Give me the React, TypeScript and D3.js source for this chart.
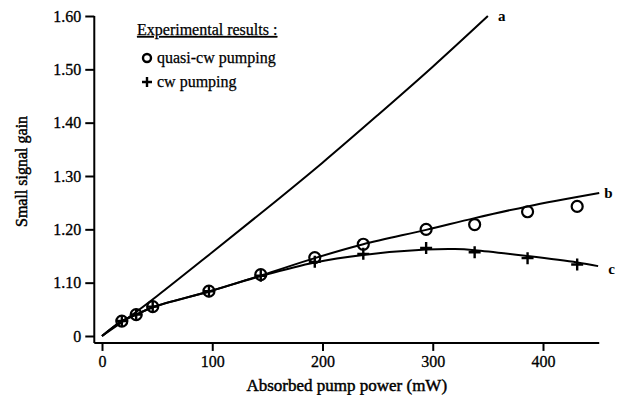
import React, { useRef, useEffect } from 'react';
import * as d3 from 'd3';

const W = 626;
const H = 395;

const xTicks = [0, 100, 200, 300, 400];
const yTicks = [1.0, 1.1, 1.2, 1.3, 1.4, 1.5, 1.6];

// curve a
const aPower = [0, 25, 50, 100, 150, 200, 250, 300, 350];
const aGain = [1.0, 1.036, 1.075, 1.157, 1.24, 1.325, 1.414, 1.505, 1.6];

// curve b
const bPower = [0, 18, 31, 46, 98, 145, 193, 237, 294, 338, 386, 451];
const bGain = [1.0, 1.028, 1.04, 1.054, 1.084, 1.114, 1.146, 1.172, 1.199, 1.221, 1.243, 1.268];

// curve c
const cPower = [0, 18, 31, 46, 98, 145, 193, 237, 294, 320, 338, 386, 431, 450];
const cGain = [1.0, 1.028, 1.04, 1.054, 1.084, 1.113, 1.138, 1.152, 1.162, 1.163, 1.161, 1.15, 1.138, 1.131];

// experimental points
const pumpPower = [18, 31, 46, 97, 144, 193, 237, 294, 338, 386, 431];
const quasiCwGain = [1.028, 1.04, 1.055, 1.084, 1.115, 1.147, 1.172, 1.2, 1.209, 1.233, 1.243];
const cwGain = [1.028, 1.04, 1.055, 1.084, 1.113, 1.139, 1.154, 1.165, 1.157, 1.146, 1.134];

const FONT = 'Liberation Serif, Times New Roman, Times, serif';

const App: React.FC = () => {
  const svgRef = useRef<SVGSVGElement | null>(null);

  useEffect(() => {
    if (!svgRef.current) return;
    const svg = d3.select(svgRef.current);
    svg.selectAll('*').remove();

    const x = d3.scaleLinear().domain([0, 400]).range([102, 543]);
    const y = d3.scaleLinear().domain([1.0, 1.6]).range([336, 16]);

    const x0 = x(-7);
    const x1 = x(451);
    const yBottom = y(0.987);
    const yTop = y(1.6);

    const g = svg.append('g').attr('fill', '#000');

    // axes lines
    g.append('line').attr('x1', x0).attr('x2', x1).attr('y1', yBottom).attr('y2', yBottom)
      .attr('stroke', '#000').attr('stroke-width', 2);
    g.append('line').attr('x1', x0).attr('x2', x0).attr('y1', yTop).attr('y2', yBottom)
      .attr('stroke', '#000').attr('stroke-width', 2);

    const xAxis = g.append('g').attr('transform', `translate(0, ${yBottom})`)
      .call(d3.axisBottom(x).tickValues(xTicks).tickSize(8).tickPadding(5).tickFormat(d => String(d)));
    xAxis.select('.domain').remove();
    xAxis.attr('font-family', FONT).attr('font-size', 16);
    xAxis.selectAll('line').attr('stroke', '#000').attr('stroke-width', 2);
    xAxis.selectAll('text').attr('fill', '#000').attr('stroke', '#000').attr('stroke-width', 0.3);

    const yAxis = g.append('g').attr('transform', `translate(${x0}, 0)`)
      .call(d3.axisLeft(y).tickValues(yTicks).tickSize(9).tickPadding(4)
        .tickFormat(d => (+d === 1 ? '0' : (+d).toFixed(2))));
    yAxis.select('.domain').remove();
    yAxis.attr('font-family', FONT).attr('font-size', 16);
    yAxis.selectAll('line').attr('stroke', '#000').attr('stroke-width', 2);
    yAxis.selectAll('text').attr('fill', '#000').attr('stroke', '#000').attr('stroke-width', 0.3);

    // axis titles
    g.append('text').attr('x', (x0 + x1) / 2).attr('y', 391).attr('text-anchor', 'middle')
      .attr('font-size', 17).attr('stroke', '#000').attr('stroke-width', 0.45)
      .text('Absorbed pump power (mW)');
    g.append('text').attr('transform', `translate(27, ${(yTop + yBottom) / 2 - 8}) rotate(-90)`)
      .attr('text-anchor', 'middle').attr('font-size', 16).attr('stroke', '#000').attr('stroke-width', 0.45)
      .text('Small signal gain');

    // curves
    const line = d3.line<[number, number]>().x(d => x(d[0])).y(d => y(d[1])).curve(d3.curveCatmullRom.alpha(0.5));
    const curves: [number[], number[]][] = [[aPower, aGain], [bPower, bGain], [cPower, cGain]];
    curves.forEach(([p, v]) => {
      g.append('path').datum(p.map((pp, i) => [pp, v[i]] as [number, number]))
        .attr('d', line).attr('fill', 'none').attr('stroke', '#000').attr('stroke-width', 2);
    });

    // curve labels
    g.append('text').attr('x', x(350) + 10).attr('y', y(1.6) + 5).attr('font-size', 15)
      .attr('font-weight', 'bold').text('a');
    g.append('text').attr('x', x(451) + 5).attr('y', y(1.268) + 5).attr('font-size', 15)
      .attr('font-weight', 'bold').text('b');
    g.append('text').attr('x', x(450) + 10).attr('y', y(1.131) + 8).attr('font-size', 15)
      .attr('font-weight', 'bold').text('c');

    // markers
    const plus = (sel: any, cx: number, cy: number, s: number) => {
      sel.append('path').attr('d', `M${cx - s},${cy}H${cx + s}M${cx},${cy - s}V${cy + s}`)
        .attr('stroke', '#000').attr('stroke-width', 2.4).attr('fill', 'none');
    };
    pumpPower.forEach((p, i) => {
      g.append('circle').attr('cx', x(p)).attr('cy', y(quasiCwGain[i])).attr('r', 5.5)
        .attr('fill', 'none').attr('stroke', '#000').attr('stroke-width', 2.2);
      plus(g, x(p), y(cwGain[i]), 6);
    });

    // legend
    const legend = g.append('g').attr('stroke', '#000').attr('stroke-width', 0.25);
    legend.append('text').attr('x', 137).attr('y', 35).attr('font-size', 16)
      .attr('text-decoration', 'underline').text('Experimental results :');
    g.append('circle').attr('cx', 147).attr('cy', 58).attr('r', 4)
      .attr('fill', 'none').attr('stroke', '#000').attr('stroke-width', 2.4);
    legend.append('text').attr('x', 157).attr('y', 63).attr('font-size', 16).text('quasi-cw pumping');
    plus(g, 147, 82, 5);
    legend.append('text').attr('x', 157).attr('y', 87).attr('font-size', 16).text('cw pumping');
  }, []);

  return (
    <div style={{ position: 'absolute', left: 0, top: 0, width: W, height: H, background: '#fff' }}>
      <svg ref={svgRef} width={W} height={H} style={{ fontFamily: FONT }}></svg>
    </div>
  );
};

export default App;
